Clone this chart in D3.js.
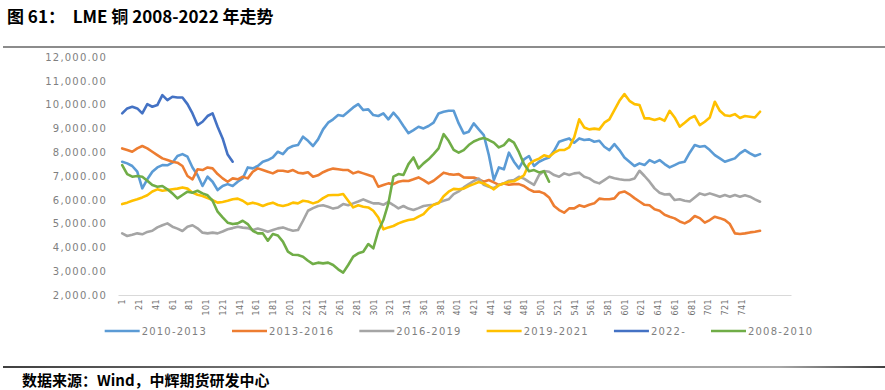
<!DOCTYPE html>
<html>
<head>
<meta charset="utf-8">
<script src="https://cdn.jsdelivr.net/npm/d3@7"></script>
<style>
  body { margin: 0; background: #fff; }
  svg { display: block; }
</style>
</head>
<body>
<div id="chart"></div>
<script>
// LME copper, one value every 6 trading days
var sampleStep = 6;

var s2010_2013 = [7600, 7530, 7420, 7180, 6480, 6860, 7180, 7360, 7460, 7450, 7560, 7840, 7920, 7810, 7360, 7040,
  6580, 6970, 6760, 6410, 6580, 6660, 6580, 6760, 6900, 7360, 7320, 7420, 7600, 7670, 7780, 8020,
  7920, 8160, 8260, 8300, 8650, 8480, 8260, 8540, 8960, 9240, 9380, 9560, 9520, 9700, 9880, 10020,
  9770, 9800, 9560, 9520, 9630, 9380, 9660, 9420, 9100, 8800, 8930, 9070, 9000, 9100, 9240, 9630, 9700,
  9740, 9740, 9210, 8790, 8860, 9210, 8960, 8720, 7880, 6830, 7360, 7280, 7980, 7600, 7320, 7700,
  7840, 7420, 7600, 7700, 7780, 8060, 8440, 8510, 8580, 8400, 8580, 8510, 8540, 8440, 8480, 8230, 8090,
  8340, 8090, 7780, 7600, 7420, 7530, 7460, 7670, 7560, 7670, 7500, 7360, 7460, 7560, 7600, 7980,
  8300, 8230, 8260, 8090, 7880, 7740, 7600, 7670, 7740, 7950, 8090, 7950, 7840, 7920];

var s2013_2016 = [8160, 8090, 8020, 8160, 8260, 8160, 8020, 7880, 7740, 7670, 7600, 7560, 7420, 7000, 6860, 7280,
  7250, 7360, 7320, 7080, 6900, 6760, 6900, 6860, 6970, 6900, 7180, 7320, 7250, 7180, 7110, 7220,
  7220, 7180, 7250, 7140, 7110, 7160, 6970, 7030, 7160, 7250, 7310, 7280, 7250, 7250, 7110, 7180,
  7110, 7040, 6970, 6550, 6620, 6690, 6660, 6760, 6800, 6790, 6860, 6940, 6830, 6690, 6800, 6970, 7140,
  7080, 7050, 7080, 6940, 6930, 6940, 6860, 6760, 6830, 6730, 6630, 6690, 6630, 6660, 6660, 6580,
  6440, 6340, 6350, 6270, 6100, 5740, 5570, 5460, 5640, 5640, 5770, 5710, 5790, 5850, 6050, 6020, 6020,
  6060, 6300, 6350, 6230, 6070, 5930, 5790, 5770, 5600, 5540, 5370, 5290, 5220, 5090, 5010, 5120,
  5320, 5230, 5040, 5150, 5290, 5230, 5150, 4980, 4590, 4560, 4590, 4630, 4660, 4700];

var s2016_2019 = [4590, 4480, 4530, 4590, 4550, 4650, 4700, 4840, 4930, 5010, 4870, 4790, 4690, 4870, 4930, 4800,
  4620, 4590, 4620, 4590, 4670, 4760, 4810, 4870, 4830, 4810, 4730, 4790, 4730, 4660, 4730, 4800,
  4840, 4760, 4700, 4730, 5120, 5540, 5650, 5740, 5770, 5710, 5630, 5680, 5820, 5770, 5850, 5930,
  6020, 5930, 5850, 5850, 5790, 5910, 5780, 5640, 5740, 5630, 5570, 5650, 5740, 5770, 5790, 5880, 5960,
  6020, 6240, 6350, 6520, 6660, 6790, 6890, 6630, 6550, 6490, 6630, 6690, 6800, 6830, 6970, 6890,
  6750, 6630, 7040, 7210, 7180, 7040, 6970, 7110, 7040, 7110, 7140, 6970, 6900, 6760, 6690, 6830, 6970,
  6910, 6860, 6830, 6830, 6890, 7220, 7000, 6760, 6480, 6300, 6220, 6240, 5990, 6020, 5960, 5930,
  6100, 6270, 6200, 6270, 6200, 6130, 6200, 6130, 6200, 6130, 6190, 6130, 6020, 5920];

var s2019_2021 = [5820, 5880, 5960, 6020, 6100, 6190, 6350, 6440, 6380, 6410, 6440, 6470, 6520, 6470, 6300, 6210,
  6160, 6070, 5990, 5880, 5910, 5960, 6020, 6050, 5960, 5820, 5880, 5820, 5740, 5820, 5880, 5780,
  5740, 5790, 5880, 5850, 5960, 5930, 5850, 5920, 6070, 6190, 6200, 6200, 6240, 5960, 5680, 5770,
  5710, 5680, 5540, 5260, 4760, 4840, 4900, 5010, 5090, 5150, 5180, 5290, 5400, 5630, 5790, 5850, 6150,
  6340, 6460, 6440, 6470, 6580, 6660, 6750, 6690, 6580, 6440, 6610, 6690, 6760, 6780, 6890, 7030,
  7500, 7640, 7730, 7870, 7810, 7980, 8090, 8090, 8200, 8620, 9380, 9040, 8960, 8990, 8960, 9240, 9380,
  9770, 10160, 10440, 10160, 10020, 9980, 9420, 9420, 9350, 9420, 9320, 9740, 9460, 9070, 9240, 9420,
  9520, 9140, 9280, 9460, 10120, 9740, 9550, 9520, 9600, 9440, 9520, 9490, 9460, 9700];

var s2022 = [9630, 9840, 9910, 9840, 9630, 10020, 9910, 9980, 10400, 10190, 10330, 10300, 10300, 10020, 9630, 9140,
  9280, 9520, 9630, 9070, 8580, 7900, 7600];

var s2008_2010 = [7460, 7080, 6970, 7000, 6970, 6800, 6620, 6550, 6580, 6440, 6270, 6060, 6200, 6340, 6300, 6380,
  6270, 6190, 5960, 5500, 5260, 5040, 4980, 5010, 5120, 4980, 4700, 4590, 4590, 4280, 4560, 4500,
  4240, 3820, 3690, 3680, 3610, 3440, 3300, 3360, 3330, 3360, 3260, 3080, 2940, 3260, 3610, 3750,
  3820, 4140, 3960, 4700, 5150, 5850, 6970, 7080, 7040, 7500, 7780, 7320, 7530, 7700, 7920, 8160, 8760,
  8480, 8100, 7980, 8090, 8300, 8450, 8540, 8600, 8510, 8400, 8200, 8300, 8540, 8400, 8000, 7500,
  7200, 7250, 7150, 7200, 6760];

var seriesNames = ['2010-2013', '2013-2016', '2016-2019', '2019-2021', '2022-', '2008-2010'];
var seriesColors = ['#5b9bd5', '#ed7d31', '#a5a5a5', '#ffc000', '#4472c4', '#70ad47'];
var seriesValues = [s2010_2013, s2013_2016, s2016_2019, s2019_2021, s2022, s2008_2010];

var xTickLabels = [1, 21, 41, 61, 81, 101, 121, 141, 161, 181, 201, 221, 241, 261, 281, 301, 321, 341, 361,
  381, 401, 421, 441, 461, 481, 501, 521, 541, 561, 581, 601, 621, 641, 661, 681, 701, 721, 741];
var yTicks = [2000, 3000, 4000, 5000, 6000, 7000, 8000, 9000, 10000, 11000, 12000];

var W = 885, H = 390;
var labelFont = 'DejaVu Sans, sans-serif';

var svg = d3.select('#chart').append('svg').attr('width', W).attr('height', H);

// title + rules
svg.append('text')
  .attr('x', 7).attr('y', 23)
  .attr('font-family', 'Noto Sans CJK SC, sans-serif')
  .attr('font-weight', 'bold').attr('font-size', 17)
  .attr('fill', '#000')
  .style('white-space', 'pre')
  .text('图 61：  LME 铜 2008-2022 年走势');

svg.append('line').attr('x1', 3).attr('x2', W).attr('y1', 47).attr('y2', 47)
  .attr('stroke', '#8c8c8c').attr('stroke-width', 2);

var grad = svg.append('defs').append('linearGradient').attr('id', 'foot');
grad.append('stop').attr('offset', '0%').attr('stop-color', '#404040');
grad.append('stop').attr('offset', '55%').attr('stop-color', '#a0a0a0');
grad.append('stop').attr('offset', '88%').attr('stop-color', '#a8a8a8');
grad.append('stop').attr('offset', '100%').attr('stop-color', '#404040');
svg.append('rect').attr('x', 3).attr('y', 366).attr('width', W - 3).attr('height', 2)
  .attr('fill', 'url(#foot)');

svg.append('text')
  .attr('x', 22).attr('y', 386)
  .attr('font-family', 'Noto Sans CJK SC, sans-serif')
  .attr('font-weight', 'bold').attr('font-size', 15)
  .attr('fill', '#000')
  .text('数据来源：Wind，中辉期货研发中心');

// scales
var x = d3.scaleLinear().domain([-4, 800]).range([118, 791]);
var y = d3.scaleLinear().domain([2000, 12000]).range([295, 57]);

// y axis (labels only)
var yAxis = svg.append('g').attr('transform', 'translate(118,0)')
  .call(d3.axisLeft(y).tickValues(yTicks).tickFormat(d3.format(',.2f')).tickSize(0).tickPadding(11));
yAxis.select('.domain').remove();
yAxis.selectAll('text')
  .attr('font-family', labelFont).attr('font-size', 10)
  .attr('letter-spacing', 1.2).attr('fill', '#7f7f7f');

// x axis
var xAxis = svg.append('g').attr('transform', 'translate(0,295)')
  .call(d3.axisBottom(x).tickValues(xTickLabels).tickFormat(d3.format('d')).tickSize(0));
xAxis.select('.domain').attr('stroke', '#d9d9d9').attr('stroke-width', 1);
xAxis.selectAll('text')
  .attr('font-family', labelFont).attr('font-size', 8)
  .attr('letter-spacing', 0.4).attr('fill', '#6f6f6f')
  .attr('text-anchor', 'end')
  .attr('transform', 'rotate(-90)')
  .attr('x', -4).attr('y', 0).attr('dy', '0.35em');

// lines
var line = d3.line()
  .x(function(d, k) { return x(1 + k * sampleStep); })
  .y(function(d) { return y(d); });

svg.append('g').selectAll('path')
  .data(seriesValues)
  .enter().append('path')
  .attr('d', line)
  .attr('fill', 'none')
  .attr('stroke', function(d, i) { return seriesColors[i]; })
  .attr('stroke-width', 2.6)
  .attr('stroke-linejoin', 'round')
  .attr('stroke-linecap', 'round');

// legend
var legend = svg.append('g');
var items = legend.selectAll('g').data(seriesNames).enter().append('g');
items.append('line')
  .attr('x1', 0).attr('x2', 35).attr('y1', 0).attr('y2', 0)
  .attr('stroke', function(d, i) { return seriesColors[i]; })
  .attr('stroke-width', 2.6);
items.append('text')
  .attr('x', 37).attr('dy', '0.35em')
  .attr('font-family', labelFont).attr('font-size', 10)
  .attr('letter-spacing', 1.2).attr('fill', '#7f7f7f')
  .text(function(d) { return d; });

var cursor = 0, gap = 25;
items.each(function() {
  var g = d3.select(this);
  var w = 37 + g.select('text').node().getComputedTextLength();
  g.attr('transform', 'translate(' + cursor + ',0)');
  cursor += w + gap;
});
var total = cursor - gap;
legend.attr('transform', 'translate(' + (459 - total / 2) + ',331)');
</script>
</body>
</html>
